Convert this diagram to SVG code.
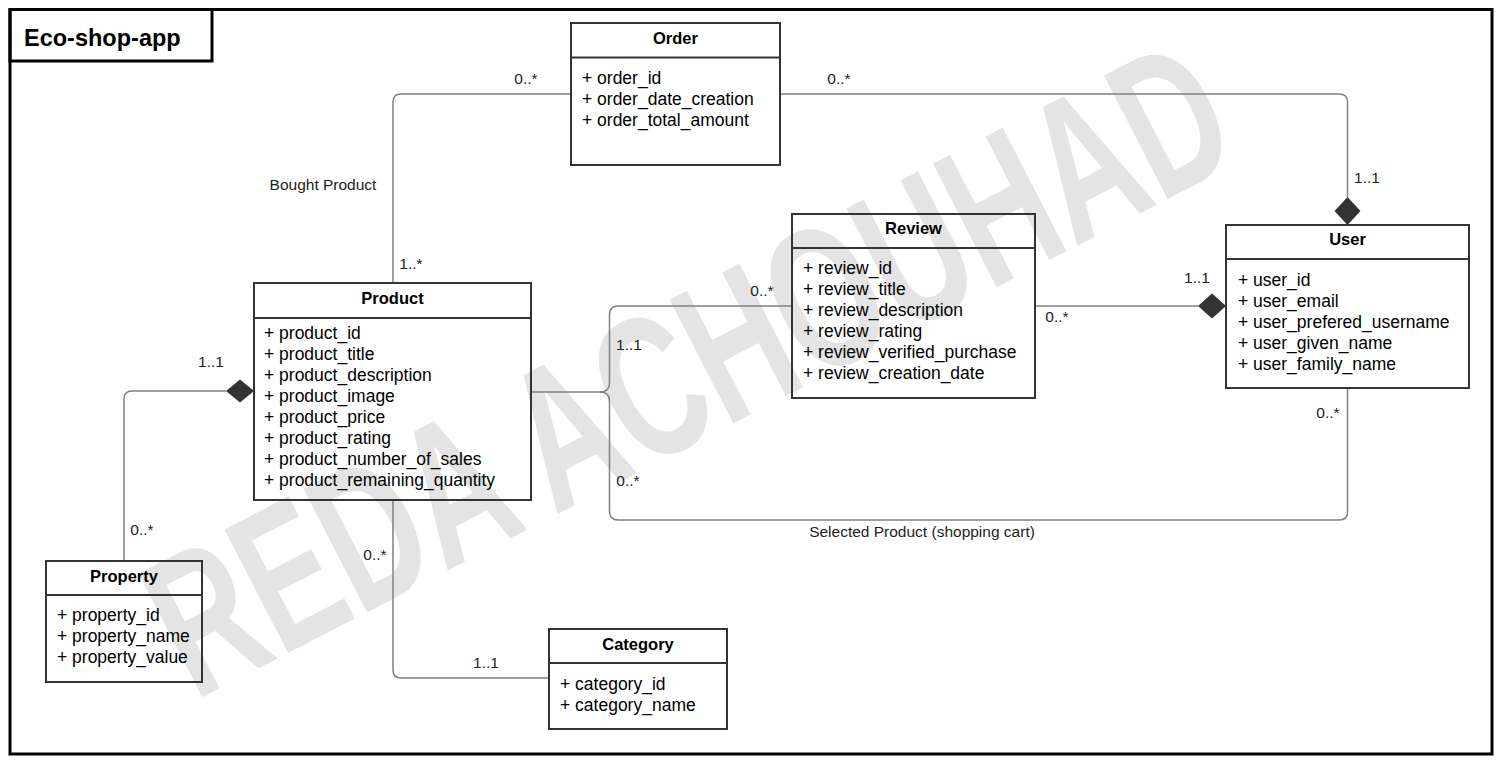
<svg xmlns="http://www.w3.org/2000/svg" width="1503" height="764" viewBox="0 0 1503 764">
<style>
.frame{fill:none;stroke:#000;stroke-width:3}
.box{fill:none;stroke:#333;stroke-width:2}
.conn{fill:none;stroke:#808080;stroke-width:1.5}
.dia{fill:#333;stroke:none}
.hd{font-family:"Liberation Sans",Arial,sans-serif;font-size:16.5px;font-weight:bold;fill:#000;text-anchor:middle}
.at{font-family:"Liberation Sans",Arial,sans-serif;font-size:17.5px;fill:#000}
.lb{font-family:"Liberation Sans",Arial,sans-serif;font-size:15.5px;fill:#222;text-anchor:middle}
.wm{font-family:"Liberation Sans",Arial,sans-serif;font-size:202px;font-weight:bold;fill:#e4e4e4;text-anchor:middle}
.ttl{font-family:"Liberation Sans",Arial,sans-serif;font-size:23.5px;font-weight:bold;fill:#000}
</style>
<rect x="0" y="0" width="1503" height="764" fill="#fff"/>
<text class="wm" transform="translate(720,430) rotate(-27.3) scale(0.66,1)">REDA ACHOUHAD</text>
<rect class="frame" x="10" y="9.5" width="1482" height="744.5"/>
<g id="title">
<rect class="frame" x="10" y="9.5" width="202" height="51.5"/>
<text class="ttl" x="24" y="45.5">Eco-shop-app</text>
</g>
<g id="connectors">
<path class="conn" d="M571,94 H401 Q393,94 393,102 V283"/>
<path class="conn" d="M780,94 H1339 Q1347.5,94 1347.5,102 V197"/>
<polygon class="dia" points="1347.5,197 1360.5,211 1347.5,225 1334.5,211"/>
<path class="conn" d="M1035,306 H1198"/>
<polygon class="dia" points="1198,306 1212,293.5 1226,306 1212,318.5"/>
<path class="conn" d="M226,391 H132 Q124,391 124,399 V561"/>
<polygon class="dia" points="226,391 240,379.5 254,391 240,402.5"/>
<path class="conn" d="M393,500 V670 Q393,678 401,678 H549"/>
<path class="conn" d="M531,392 H600 Q609.5,392 609.5,383 V315 Q609.5,306 618,306 H792"/>
<path class="conn" d="M600,392 Q609.5,392 609.5,401 V511 Q609.5,520 618,520 H1339 Q1347.5,520 1347.5,512 V388"/>
<text class="lb" x="526" y="84">0..*</text>
<text class="lb" x="839" y="84">0..*</text>
<text class="lb" x="323" y="190">Bought Product</text>
<text class="lb" x="411" y="269">1..*</text>
<text class="lb" x="1367" y="183">1..1</text>
<text class="lb" x="1197" y="283">1..1</text>
<text class="lb" x="1057" y="322">0..*</text>
<text class="lb" x="762" y="296">0..*</text>
<text class="lb" x="629" y="350">1..1</text>
<text class="lb" x="628" y="486">0..*</text>
<text class="lb" x="1328" y="418">0..*</text>
<text class="lb" x="922" y="537">Selected Product (shopping cart)</text>
<text class="lb" x="211" y="367">1..1</text>
<text class="lb" x="142" y="535">0..*</text>
<text class="lb" x="375" y="560">0..*</text>
<text class="lb" x="486" y="668">1..1</text>
</g>
<g id="order">
<rect class="box" x="571" y="23" width="209" height="142"/>
<line class="box" x1="571" y1="57.5" x2="780" y2="57.5"/>
<text class="hd" x="675.5" y="44">Order</text>
<text class="at" x="582" y="83.5">+ order_id</text>
<text class="at" x="582" y="104.5">+ order_date_creation</text>
<text class="at" x="582" y="125.5">+ order_total_amount</text>
</g>
<g id="review">
<rect class="box" x="792" y="214" width="243" height="184"/>
<line class="box" x1="792" y1="248" x2="1035" y2="248"/>
<text class="hd" x="913.5" y="234">Review</text>
<text class="at" x="803" y="273.5">+ review_id</text>
<text class="at" x="803" y="294.5">+ review_title</text>
<text class="at" x="803" y="315.5">+ review_description</text>
<text class="at" x="803" y="336.5">+ review_rating</text>
<text class="at" x="803" y="357.5">+ review_verified_purchase</text>
<text class="at" x="803" y="378.5">+ review_creation_date</text>
</g>
<g id="user">
<rect class="box" x="1226" y="225" width="243" height="163"/>
<line class="box" x1="1226" y1="259" x2="1469" y2="259"/>
<text class="hd" x="1347.5" y="245">User</text>
<text class="at" x="1238" y="285.5">+ user_id</text>
<text class="at" x="1238" y="306.5">+ user_email</text>
<text class="at" x="1238" y="327.5">+ user_prefered_username</text>
<text class="at" x="1238" y="348.5">+ user_given_name</text>
<text class="at" x="1238" y="369.5">+ user_family_name</text>
</g>
<g id="product">
<rect class="box" x="254" y="283" width="277" height="217"/>
<line class="box" x1="254" y1="318" x2="531" y2="318"/>
<text class="hd" x="392.5" y="304">Product</text>
<text class="at" x="264" y="338.5">+ product_id</text>
<text class="at" x="264" y="359.5">+ product_title</text>
<text class="at" x="264" y="380.5">+ product_description</text>
<text class="at" x="264" y="401.5">+ product_image</text>
<text class="at" x="264" y="422.5">+ product_price</text>
<text class="at" x="264" y="443.5">+ product_rating</text>
<text class="at" x="264" y="464.5">+ product_number_of_sales</text>
<text class="at" x="264" y="485.5">+ product_remaining_quantity</text>
</g>
<g id="property">
<rect class="box" x="46" y="561" width="156" height="121"/>
<line class="box" x1="46" y1="595" x2="202" y2="595"/>
<text class="hd" x="124" y="582">Property</text>
<text class="at" x="57" y="620.5">+ property_id</text>
<text class="at" x="57" y="641.5">+ property_name</text>
<text class="at" x="57" y="662.5">+ property_value</text>
</g>
<g id="category">
<rect class="box" x="549" y="629" width="178" height="100"/>
<line class="box" x1="549" y1="663" x2="727" y2="663"/>
<text class="hd" x="638" y="650">Category</text>
<text class="at" x="560" y="689.5">+ category_id</text>
<text class="at" x="560" y="710.5">+ category_name</text>
</g>
</svg>
